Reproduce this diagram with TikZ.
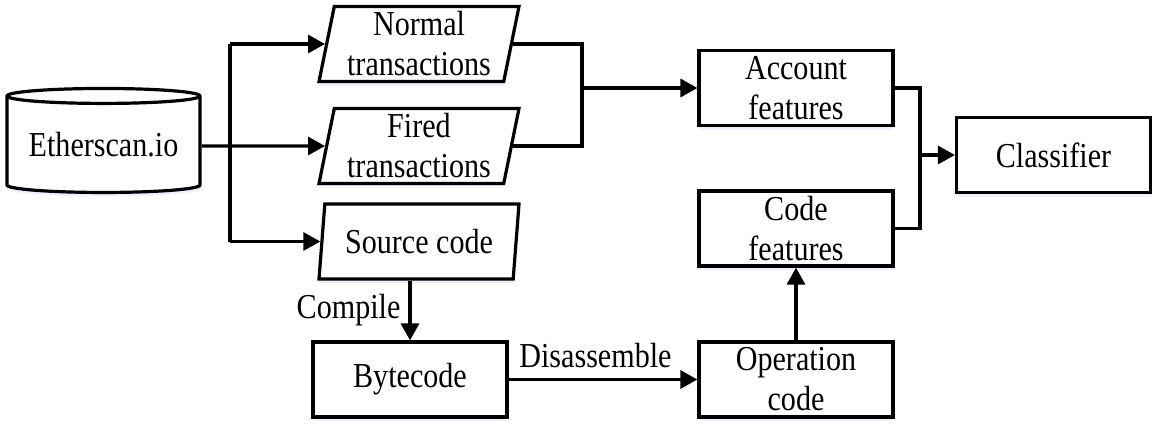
\documentclass[tikz,border=0pt]{standalone}
\usepackage{fontspec}
\setmainfont[FakeStretch=0.86]{Liberation Serif}
\usetikzlibrary{shapes.geometric,arrows.meta,shadows}

\tikzset{
  flow/.style={line width=1.6pt, -{Triangle[length=8.5pt,width=9pt]}},
  wire/.style={line width=1.6pt},
  shade box/.style={drop shadow={fill=blue!12!white, shadow xshift=0pt, shadow yshift=-2pt}},
  stepbox/.style={draw, line width=1.6pt, fill=white, shade box, align=center,
    minimum width=97pt, minimum height=37.5pt, inner sep=0pt},
  databox/.style={draw, line width=1.6pt, fill=white, shade box, align=center,
    trapezium, trapezium left angle=76.7, trapezium right angle=103.3,
    trapezium stretches body, minimum width=100pt, minimum height=37.5pt, inner sep=0pt},
  store/.style={draw, line width=1.6pt, fill=white, shade box, cylinder,
    shape border rotate=90, aspect=0.1, minimum width=96.5pt, minimum height=52pt, inner sep=0pt}
}

\begin{document}
\begin{tikzpicture}[x=0.5pt, y=-0.5pt, font=\fontsize{17.5pt}{20pt}\selectfont]
\useasboundingbox (0,0) rectangle (1154,429);
% sources
\node [store] (db) at (103.5,145) {Etherscan.io};
\node [databox] (normal) at (419,44) {Normal\\transactions};
\node [databox] (fired) at (419,146) {Fired\\transactions};
\node [databox] (src) at (419,241.5) {Source code};
% processing
\node [stepbox] (bc) at (410,379.5) {Bytecode};
\node [stepbox] (op) at (796,379.5) {Operation\\code};
\node [stepbox] (acct) at (796,88) {Account\\features};
\node [stepbox] (codef) at (796,228.5) {Code\\features};
\node [stepbox] (cls) at (1053.5,155) {Classifier};
% junction points
\coordinate (busL) at (230,146);
\coordinate (busR) at (582,88);
\coordinate (busC) at (920,155);
% fan out
\draw [wire] (db.east |- fired.west) -- (busL);
\draw [flow] (busL) -- (fired.west);
\draw [wire] (busL |- normal.west) -- (busL |- src.west);
\draw [flow] (busL |- normal.west) -- (normal.west);
\draw [flow] (busL |- src.west) -- (src.west);
% transactions to account features
\draw [wire] (normal.east) -| (busR) |- (fired.east);
\draw [flow] (busR) -- (acct.west);
% code path
\draw [flow] (src.south -| bc.north) -- node [left, inner sep=4pt] {Compile} (bc.north);
\draw [flow] (bc.east) -- node [above, pos=0.46, inner sep=5pt] {Disassemble} (op.west);
\draw [flow] (op.north) -- (codef.south);
% to classifier
\draw [wire] (acct.east) -| (busC) |- (codef.east);
\draw [flow] (busC) -- (cls.west);
\end{tikzpicture}
\end{document}
